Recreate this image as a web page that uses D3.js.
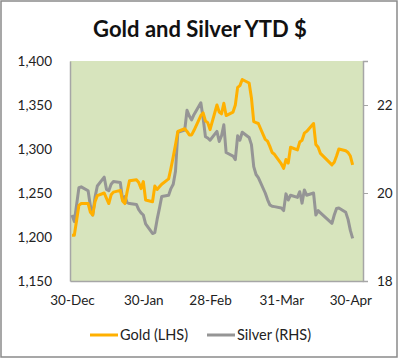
<!DOCTYPE html>
<html><head><meta charset="utf-8">
<script src="https://cdn.jsdelivr.net/npm/d3@7"></script>
<style>
html,body{margin:0;padding:0;background:#fff;}
text{font-family:Lato,"Open Sans",sans-serif;}
</style></head>
<body><svg id="c" width="400" height="359"></svg>
<script>
const title = "Gold and Silver YTD $";
const dates = ["2013-12-30","2013-12-31","2014-01-02","2014-01-03","2014-01-06","2014-01-07","2014-01-08","2014-01-09","2014-01-10",
"2014-01-13","2014-01-14","2014-01-15","2014-01-16","2014-01-17","2014-01-20","2014-01-21","2014-01-22","2014-01-23","2014-01-24",
"2014-01-27","2014-01-28","2014-01-29","2014-01-30","2014-01-31","2014-02-03","2014-02-04","2014-02-05","2014-02-06","2014-02-07",
"2014-02-10","2014-02-11","2014-02-12","2014-02-13","2014-02-14","2014-02-17","2014-02-18","2014-02-19","2014-02-20","2014-02-21",
"2014-02-24","2014-02-25","2014-02-26","2014-02-27","2014-02-28","2014-03-03","2014-03-04","2014-03-05","2014-03-06","2014-03-07",
"2014-03-10","2014-03-11","2014-03-12","2014-03-13","2014-03-14","2014-03-17","2014-03-18","2014-03-19","2014-03-20","2014-03-21",
"2014-03-24","2014-03-25","2014-03-26","2014-03-27","2014-03-28","2014-03-31","2014-04-01","2014-04-02","2014-04-03","2014-04-04",
"2014-04-07","2014-04-08","2014-04-09","2014-04-10","2014-04-11","2014-04-14","2014-04-15","2014-04-16","2014-04-17",
"2014-04-22","2014-04-23","2014-04-24","2014-04-25","2014-04-28","2014-04-29","2014-04-30","2014-05-01"];
const gold = [1202,1202,1236,1238,1238,1228,1225,1240,1247,
1250,1244,1238,1248,1251,1253,1241,1238,1252,1264,
1265,1262,1255,1263,1242,1240,1258,1254,1257,1260,
1266,1278,1291,1305,1320,1323,1320,1316,1316,1321,
1338,1341,1332,1330,1322,1350,1342,1340,1352,1338,
1342,1350,1370,1372,1379,1375,1358,1331,1330,1329,
1311,1309,1303,1296,1294,1283,1278,1288,1284,1302,
1299,1308,1310,1318,1320,1329,1305,1302,1295,
1282,1285,1292,1300,1298,1296,1292,1282];
const silver = [19.5,19.35,20.12,20.14,20.05,19.7,19.5,19.9,20.16,
20.36,20.08,20.05,20.2,20.26,20.24,19.84,19.92,19.78,19.76,
19.74,19.62,19.55,19.5,19.3,19.08,19.1,19.4,19.65,19.92,
19.95,20.1,20.2,20.5,21.38,21.43,21.88,21.75,21.66,21.78,
22.05,21.7,21.28,21.25,21.2,21.4,21.17,21.3,21.55,20.92,
20.84,20.76,21.3,21.2,21.38,21.26,21.1,20.6,20.42,20.35,
20.0,19.85,19.73,19.7,19.69,19.66,19.6,19.98,19.84,19.95,
19.9,20.03,19.77,20.07,19.95,20.0,19.5,19.6,19.55,
19.31,19.5,19.65,19.66,19.56,19.4,19.15,18.97];
const xTickDates = ["2013-12-30","2014-01-30","2014-02-28","2014-03-31","2014-04-30"];
const leftTicks = [1150,1200,1250,1300,1350,1400];
const rightTicks = [18,20,22];
const seriesNames = ["Gold (LHS)","Silver (RHS)"];
const colors = ["#FFB000","#959595"];

const parse = d3.utcParse("%Y-%m-%d");
const svg = d3.select("#c");
const L = 70, R = 363, T = 61, B = 281;

// outer frame
svg.append("rect").attr("x",1).attr("y",1).attr("width",396).attr("height",356)
  .attr("fill","#fff").attr("stroke","#8a8a8a").attr("stroke-width",1.5);

svg.append("text").attr("x",200).attr("y",37).attr("text-anchor","middle")
  .attr("font-size",22).attr("font-weight","bold").attr("fill","#111").text(title);

const first = parse(dates[0]);
const x = d3.scaleUtc()
  .domain([d3.utcHour.offset(first,-21), d3.utcHour.offset(first, 126*24+12)])
  .range([L,R]);
const yL = d3.scaleLinear().domain([1150,1400]).range([B,T]);
const yR = d3.scaleLinear().domain([18,23]).range([B,T]);

svg.append("rect").attr("x",L).attr("y",T).attr("width",R-L).attr("height",B-T)
  .attr("fill","#d7e4bd");

const fontFam = "Lato,'Open Sans',sans-serif";
// left axis
const ga = svg.append("g").attr("transform",`translate(${L},0)`)
  .call(d3.axisLeft(yL).tickValues(leftTicks).tickFormat(d3.format(",")).tickSize(0).tickPadding(18));
ga.select(".domain").attr("stroke","#a6a6a6").attr("stroke-width",1.5);
ga.selectAll("text").attr("font-size",13.5).attr("fill","#222").style("font-family",fontFam);

// right axis
const gr = svg.append("g").attr("transform",`translate(${R},0)`)
  .call(d3.axisRight(yR).tickValues(rightTicks).tickFormat(d3.format("d")).tickSize(5).tickPadding(9));
gr.select(".domain").attr("stroke","#a6a6a6").attr("stroke-width",1.5);
gr.selectAll("line").attr("stroke","#a6a6a6");
gr.selectAll("text").attr("font-size",13.5).attr("fill","#222").style("font-family",fontFam);

// bottom axis
const gb = svg.append("g").attr("transform",`translate(0,${B})`)
  .call(d3.axisBottom(x).tickValues(xTickDates.map(parse)).tickFormat(d3.utcFormat("%-d-%b")).tickSize(0).tickPadding(14));
gb.select(".domain").attr("stroke","#a6a6a6").attr("stroke-width",1.5);
gb.selectAll("text").attr("font-size",13.5).attr("fill","#222").style("font-family",fontFam);

const lineG = d3.line().x((d,i)=>x(parse(dates[i]))).y(d=>yL(d));
const lineS = d3.line().x((d,i)=>x(parse(dates[i]))).y(d=>yR(d));
svg.append("path").datum(silver).attr("d",lineS).attr("fill","none")
  .attr("stroke",colors[1]).attr("stroke-width",3).attr("stroke-linejoin","round");
svg.append("path").datum(gold).attr("d",lineG).attr("fill","none")
  .attr("stroke",colors[0]).attr("stroke-width",3).attr("stroke-linejoin","round");

// legend
const lg = svg.append("g");
const legX = [90, 207];
seriesNames.forEach((n,i)=>{
  lg.append("line").attr("x1",legX[i]).attr("x2",legX[i]+28).attr("y1",335).attr("y2",335)
    .attr("stroke",colors[i]).attr("stroke-width",3);
  lg.append("text").attr("x",legX[i]+30).attr("y",340).attr("font-size",14.5).attr("fill","#222").text(n);
});
</script></body></html>
